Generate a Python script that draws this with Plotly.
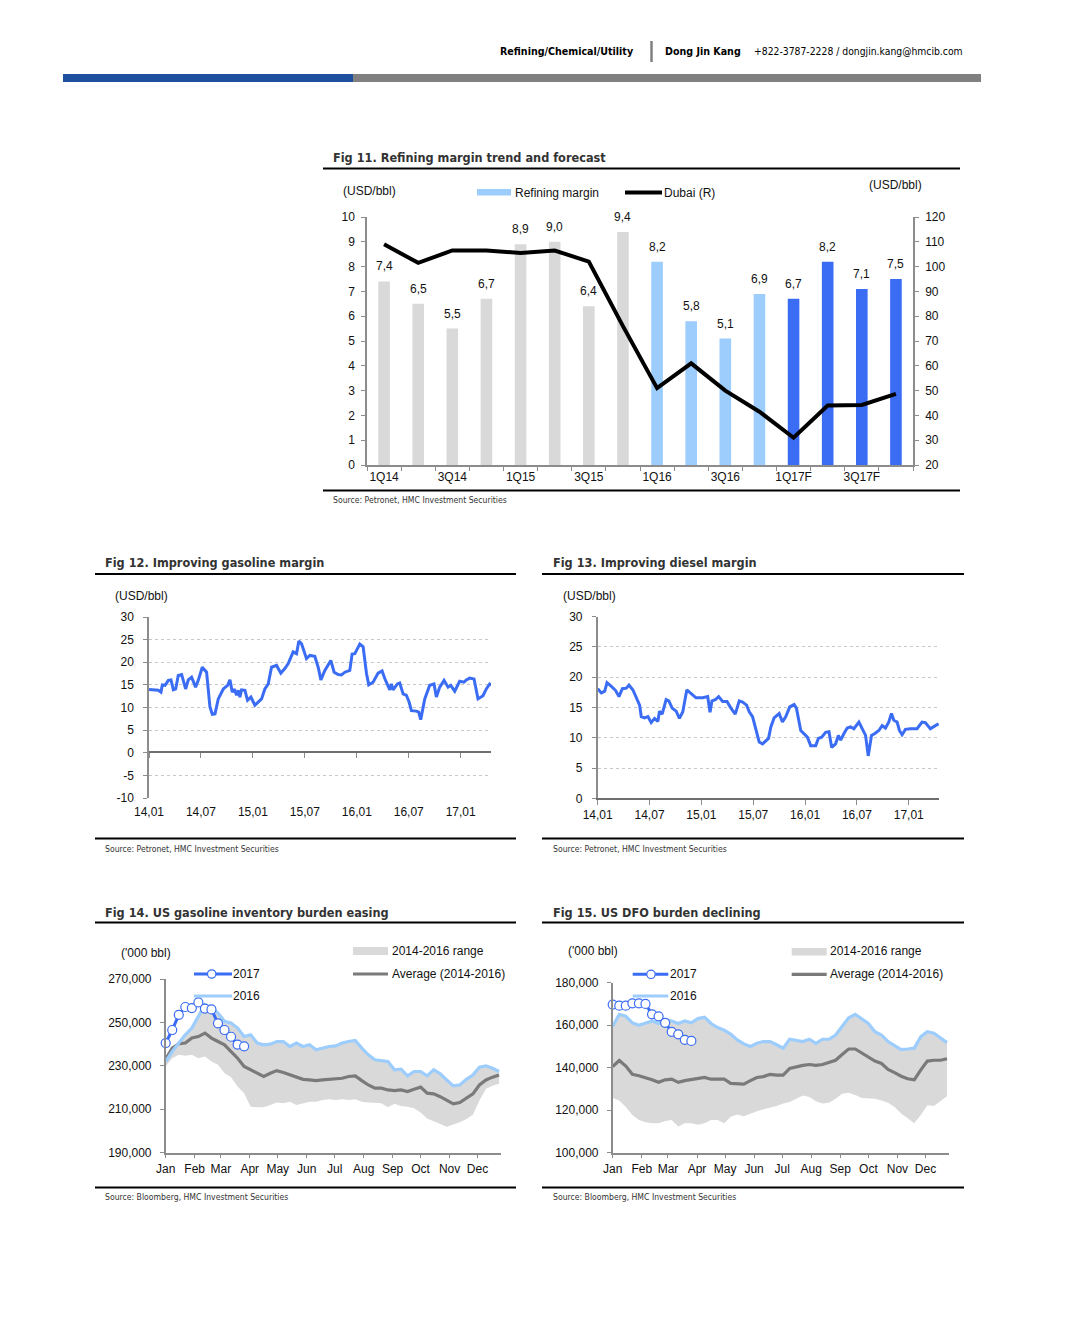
import plotly.graph_objects as go

W, H = 1068, 1322


def fx(px):
    return px / W


def fy(py):
    return 1 - py / H


SANS = "Liberation Sans, Arial, Helvetica, sans-serif"
COND = "Liberation Sans Narrow, Arial Narrow, DejaVu Sans Condensed, sans-serif"
AXIS = "#8c8c8c"
GRID = "#c8c8c8"
BLUE = "#3a6cf4"
LBLUE = "#9ccdfc"
DGRAY = "#7a7a7a"
BAND = "#d9d9d9"

# ---------------- Fig 11 data ----------------
quarters = ["1Q14", "2Q14", "3Q14", "4Q14", "1Q15", "2Q15", "3Q15", "4Q15",
            "1Q16", "2Q16", "3Q16", "4Q16", "1Q17F", "2Q17F", "3Q17F", "4Q17F"]
quarter_ticktext = ["1Q14", "", "3Q14", "", "1Q15", "", "3Q15", "",
                    "1Q16", "", "3Q16", "", "1Q17F", "", "3Q17F", ""]
refining_margin = [7.4, 6.5, 5.5, 6.7, 8.9, 9.0, 6.4, 9.4,
                   8.2, 5.8, 5.1, 6.9, 6.7, 8.2, 7.1, 7.5]
dubai = [109, 101.5, 106.5, 106.5, 105.5, 106.5, 102, 76,
         51, 61, 50, 41.5, 31, 44, 44.2, 48.7]

# ---------------- Fig 12 / 13 data ----------------
half_year_ticks = [0, 6, 12, 18, 24, 30, 36]
half_year_labels = ["14,01", "14,07", "15,01", "15,07", "16,01", "16,07", "17,01"]
gas_ytick_vals = [-10, -5, 0, 5, 10, 15, 20, 25, 30]
gas_ytick_text = ["-10", "-5", "0", "5", "10", "15", "20", "25", "30"]

gas_months = [0.0, 1.08, 1.38, 1.54, 1.85, 2.23, 2.54, 2.81, 3.08, 3.38, 3.77, 4.23, 4.54, 4.92,
              5.38, 5.69, 6.15, 6.46, 6.65, 7.04, 7.31, 7.62, 8.0, 8.58, 9.08, 9.35, 9.62, 9.85,
              10.12, 10.31, 10.5, 10.69, 11.08, 11.38, 11.77, 12.23, 13.0, 13.38, 13.77, 14.15,
              14.73, 15.23, 15.69, 16.08, 16.65, 17.04, 17.31, 17.62, 18.19, 18.58, 19.15, 19.54,
              19.85, 20.31, 21.0, 21.38, 21.85, 22.23, 22.62, 23.19, 23.46, 23.77, 24.35, 24.73,
              25.12, 25.38, 25.88, 26.46, 26.92, 27.23, 27.54, 27.81, 28.0, 28.19, 28.69, 28.96,
              29.35, 29.73, 30.04, 30.31, 30.88, 31.15, 31.38, 31.85, 32.42, 32.92, 33.19, 33.58,
              34.08, 34.54, 34.85, 35.31, 35.88, 36.38, 36.65, 37.04, 37.54, 38.0, 38.58, 38.96,
              39.35, 39.54]
gas_margin = [14.0, 13.8, 13.4, 15.0, 14.9, 16.0, 16.1, 13.9, 14.1, 17.1, 17.3, 14.1, 16.1, 16.7,
              14.5, 16.0, 18.9, 18.1, 17.8, 10.1, 8.5, 8.6, 11.9, 14.1, 14.9, 16.1, 13.4, 14.1,
              12.7, 13.8, 12.3, 13.9, 13.8, 11.6, 12.3, 10.5, 11.9, 14.1, 15.2, 18.9,
              19.3, 17.6, 18.6, 19.7, 22.3, 21.9, 24.7, 24.1, 20.8, 21.5, 21.3, 18.9,
              16.1, 18.2, 20.4, 17.8, 17.3, 17.2, 17.8, 18.2, 21.8, 21.9, 24.0, 23.4,
              17.5, 15.0, 15.6, 17.6, 18.1, 16.4, 14.9, 13.9, 15.2, 13.9, 15.2, 15.4,
              13.0, 12.7, 11.2, 9.3, 9.2, 9.0, 7.3, 11.9, 14.9, 15.2, 12.3, 14.5,
              16.0, 14.5, 14.9, 13.6, 15.8, 15.6, 16.1, 16.5, 16.3, 11.9, 12.6, 14.1,
              15.2, 15.0]

dsl_months = [0.0, 0.42, 0.81, 1.08, 1.58, 2.08, 2.46, 2.85, 3.31, 3.62, 4.08, 4.46, 4.85, 5.04,
              5.42, 5.81, 6.19, 6.58, 6.96, 7.15, 7.46, 7.92, 8.23, 8.62, 9.08, 9.46, 9.85, 10.31,
              10.69, 11.0, 11.38, 12.15, 12.73, 13.0, 13.23, 13.62, 14.0, 14.46, 14.96, 15.42,
              15.92, 16.38, 16.77, 17.23, 17.54, 17.92, 18.31, 18.69, 19.08, 19.77, 20.04, 20.42,
              21.0, 21.38, 21.77, 22.23, 22.73, 23.0, 23.5, 23.88, 24.27, 24.65, 25.23, 25.54,
              25.92, 26.38, 26.77, 27.08, 27.54, 27.85, 28.12, 28.5, 28.88, 29.27, 29.65, 30.23,
              30.62, 31.0, 31.31, 31.69, 32.08, 32.54, 32.92, 33.31, 33.69, 34.0, 34.27, 34.65,
              34.92, 35.23, 35.62, 36.19, 36.96, 37.54, 37.92, 38.5, 39.08, 39.46]
dsl_margin = [18.1, 17.4, 17.7, 19.1, 18.5, 17.8, 16.8, 18.1, 18.2, 18.7, 17.9, 16.5, 15.4, 13.5,
              13.3, 13.5, 12.5, 13.2, 12.7, 14.4, 13.9, 16.3, 16.1, 14.9, 14.4, 13.2, 14.3, 17.9,
              17.4, 17.0, 16.6, 16.6, 16.8, 14.2, 16.1, 16.3, 16.8, 16.0, 16.0, 14.9,
              13.9, 16.1, 15.9, 15.4, 14.3, 13.5, 11.2, 9.3, 9.0, 9.9, 11.8, 13.3,
              14.0, 12.6, 13.5, 15.1, 15.5, 14.9, 11.2, 10.7, 10.1, 8.7, 8.7, 9.9,
              10.1, 10.9, 11.0, 8.4, 9.0, 10.4, 9.6, 10.7, 11.6, 11.8, 11.5, 12.6,
              11.5, 10.4, 7.0, 10.4, 10.7, 11.2, 12.0, 11.6, 12.6, 14.0, 12.9, 12.6,
              11.2, 10.5, 11.4, 11.5, 11.5, 12.6, 12.5, 11.5, 12.0, 12.3]

# ---------------- Fig 14 / 15 data ----------------
weeks = list(range(52))
month_tick_weeks = [0, 4.43, 8.43, 12.86, 17.14, 21.57, 25.86, 30.29, 34.71, 39.0, 43.43, 47.71]
month_labels = ["Jan", "Feb", "Mar", "Apr", "May", "Jun", "Jul", "Aug", "Sep", "Oct", "Nov", "Dec"]

gas_inv_2017 = [240500, 246500, 253500, 257100, 256600, 259200, 256400, 256000, 249600,
                246500, 243400, 239800, 239000]
gas_inv_2016 = [232000, 236600, 240500, 244300, 247400, 252800, 258200, 256600, 254300, 250500,
                249700, 247400, 243500, 244300, 240500, 239700, 240000, 241200, 241200, 238900,
                240500, 238900, 239700, 237400, 238200, 238900, 239200, 240500, 241200, 241700,
                238200, 235100, 232800, 232500, 232000, 228200, 228500, 225400, 227400, 227400,
                225400, 228200, 226300, 223500, 220800, 221200, 223800, 225800, 229400, 230000,
                228900, 227400]
gas_inv_avg = [233000, 238200, 240200, 240500, 242800, 243500, 245100, 242800, 241200, 239700,
               236600, 233500, 229700, 228200, 226300, 225100, 226600, 227800, 226900, 225800,
               224800, 223800, 223500, 223200, 223500, 223800, 223800, 224300, 225100, 225400,
               223200, 221200, 219700, 219700, 218900, 218600, 218900, 218200, 219200, 220200,
               217400, 217100, 215800, 214300, 212500, 213100, 215100, 217100, 221200, 223500,
               224800, 225800]
gas_inv_low = [229700, 233500, 235100, 234600, 235100, 233500, 234300, 232000, 230500, 226600,
               224800, 220500, 217400, 211200, 210900, 210900, 212000, 213100, 212800, 213500,
               212000, 212800, 213500, 213500, 214300, 214600, 214300, 214600, 214300, 214600,
               213500, 213100, 213100, 212800, 210900, 212500, 211500, 211200, 210500, 208500,
               205800, 204500, 203000, 202000, 203000, 204000, 205500, 207500, 214000, 219500,
               220800, 221800]
gas_inv_high = [232000, 236600, 240500, 244300, 247400, 252800, 258200, 256600, 254300, 250500,
                249700, 247400, 243500, 244300, 240500, 239700, 240000, 241200, 241200, 238900,
                240500, 238900, 239700, 237400, 238200, 238900, 239200, 240500, 241200, 241700,
                238200, 235100, 232800, 232500, 232000, 228200, 228500, 225400, 227400, 227400,
                225400, 228200, 226300, 223500, 220800, 221200, 223800, 225800, 229400, 230000,
                228900, 227400]

dfo_inv_2017 = [169700, 169200, 169200, 170300, 170300, 170000, 165100, 164200, 161100,
                156900, 155700, 153100, 152600]
dfo_inv_2016 = [159500, 165100, 164200, 161100, 160000, 161100, 162000, 160800, 162600, 162000,
                160800, 162000, 161100, 163100, 163800, 160800, 158900, 157700, 155800, 153100,
                151200, 150000, 151500, 152300, 152300, 150800, 149200, 153400, 152800, 152300,
                153400, 151500, 153400, 153400, 155400, 159500, 163500, 165100, 163100, 160800,
                156900, 155400, 152300, 150300, 148500, 148800, 149200, 154600, 156900, 156200,
                153800, 151800]
dfo_inv_avg = [140500, 143400, 140800, 136900, 136200, 135400, 134300, 133100, 134300, 134600,
               133100, 133900, 134300, 134900, 135400, 134600, 134600, 134600, 132600, 132300,
               132300, 133900, 135400, 135800, 136900, 136500, 136500, 139700, 140500, 141100,
               141500, 141100, 141500, 142600, 143500, 146200, 148800, 148800, 146900, 145100,
               143100, 142000, 139200, 137700, 136000, 134800, 134300, 139000, 143100, 143500,
               143500, 144200]
dfo_inv_low = [125700, 124600, 121500, 117700, 115400, 114300, 113900, 113900, 114900, 115400,
               112300, 113900, 113900, 113100, 113900, 115400, 115400, 113900, 116900, 118000,
               117200, 118500, 119500, 120500, 121100, 122000, 123100, 123900, 125400, 126900,
               126200, 124200, 123100, 123500, 125400, 127700, 128200, 127200, 125700, 125400,
               125400, 124600, 123500, 121500, 118500, 116200, 113900, 117700, 122300, 122000,
               124200, 126600]
dfo_inv_high = [159500, 165100, 164200, 161100, 160000, 161100, 162000, 160800, 162600, 162000,
                160800, 162000, 161100, 163100, 163800, 160800, 158900, 157700, 155800, 153100,
                151200, 150000, 151500, 152300, 152300, 150800, 149200, 153400, 152800, 152300,
                153400, 151500, 153400, 153400, 155400, 159500, 163500, 165100, 163100, 160800,
                156900, 155400, 152300, 150300, 148500, 148800, 149200, 154600, 156900, 156200,
                153800, 151800]

# ---------------- build figure ----------------
fig = go.Figure()

bar_colors = []
for q in quarters:
    if q.endswith("F"):
        bar_colors.append(BLUE)
    elif q.endswith("16"):
        bar_colors.append(LBLUE)
    else:
        bar_colors.append(BAND)

fig.add_trace(go.Bar(x=quarters, y=refining_margin, width=0.34,
                     marker=dict(color=bar_colors, line=dict(width=0)),
                     xaxis="x", yaxis="y", hoverinfo="skip"))
fig.add_trace(go.Scatter(x=quarters, y=dubai, mode="lines",
                         line=dict(color="black", width=4),
                         xaxis="x", yaxis="y2", hoverinfo="skip"))

fig.add_trace(go.Scatter(x=gas_months, y=gas_margin, mode="lines",
                         line=dict(color=BLUE, width=3),
                         xaxis="x2", yaxis="y3", hoverinfo="skip"))
fig.add_trace(go.Scatter(x=dsl_months, y=dsl_margin, mode="lines",
                         line=dict(color=BLUE, width=3),
                         xaxis="x3", yaxis="y4", hoverinfo="skip"))


def inventory(xa, ya, low, high, avg, y2016, y2017):
    fig.add_trace(go.Scatter(x=weeks, y=low, mode="lines", line=dict(width=0),
                             xaxis=xa, yaxis=ya, hoverinfo="skip"))
    fig.add_trace(go.Scatter(x=weeks, y=high, mode="lines", line=dict(width=0),
                             fill="tonexty", fillcolor=BAND,
                             xaxis=xa, yaxis=ya, hoverinfo="skip"))
    fig.add_trace(go.Scatter(x=weeks, y=avg, mode="lines",
                             line=dict(color=DGRAY, width=3.2),
                             xaxis=xa, yaxis=ya, hoverinfo="skip"))
    fig.add_trace(go.Scatter(x=weeks, y=y2016, mode="lines",
                             line=dict(color=LBLUE, width=3.2),
                             xaxis=xa, yaxis=ya, hoverinfo="skip"))
    fig.add_trace(go.Scatter(x=weeks[:len(y2017)], y=y2017, mode="lines+markers",
                             line=dict(color=BLUE, width=3),
                             marker=dict(size=9, color="white", line=dict(color=BLUE, width=1.2)),
                             cliponaxis=False,
                             xaxis=xa, yaxis=ya, hoverinfo="skip"))


inventory("x4", "y5", gas_inv_low, gas_inv_high, gas_inv_avg, gas_inv_2016, gas_inv_2017)
inventory("x5", "y6", dfo_inv_low, dfo_inv_high, dfo_inv_avg, dfo_inv_2016, dfo_inv_2017)


def ax(**kw):
    base = dict(showgrid=False, zeroline=False, showline=True, linecolor=AXIS, linewidth=1.5,
                ticks="outside", ticklen=4, tickcolor=AXIS, tickwidth=1.2, tickangle=0,
                automargin=False,
                tickfont=dict(family=SANS, size=12, color="#111"), fixedrange=True)
    base.update(kw)
    return base


layout_axes = dict(
    xaxis=ax(domain=[fx(367), fx(913)], anchor="y", type="category", range=[-0.5, 15.5],
             tickmode="array", tickvals=quarters, ticktext=quarter_ticktext, tickson="boundaries"),
    yaxis=ax(domain=[fy(465), fy(217)], anchor="x", range=[0, 10], dtick=1, tick0=0,
             ticklabelstandoff=4),
    yaxis2=ax(overlaying="y", side="right", anchor="x", range=[20, 120], dtick=10, tick0=20,
              ticklabelstandoff=4),
    xaxis2=ax(domain=[fx(149), fx(491)], anchor="free", position=fy(752), range=[0, 39.5],
              tickmode="array", tickvals=half_year_ticks, ticktext=half_year_labels,
              ticklen=5, linecolor="#6e6e6e", ticklabelstandoff=44),
    yaxis3=ax(domain=[fy(798), fy(617)], anchor="x2", range=[-10, 30],
              tickmode="array", tickvals=gas_ytick_vals, ticktext=gas_ytick_text,
              showgrid=True, gridcolor=GRID, griddash="dot", gridwidth=1, ticklabelstandoff=7),
    xaxis3=ax(domain=[fx(597.7), fx(939)], anchor="y4", range=[0, 39.5],
              tickmode="array", tickvals=half_year_ticks, ticktext=half_year_labels,
              ticklen=5, linecolor="#6e6e6e"),
    yaxis4=ax(domain=[fy(798.3), fy(616.7)], anchor="x3", range=[0, 30], dtick=5, tick0=0,
              showgrid=True, gridcolor=GRID, griddash="dot", gridwidth=1, ticklabelstandoff=7),
    xaxis4=ax(domain=[fx(165.7), fx(501)], anchor="y5", range=[0, 51.3],
              tickmode="array", tickvals=month_tick_weeks, ticktext=month_labels),
    yaxis5=ax(domain=[fy(1152.7), fy(979)], anchor="x4", range=[190000, 270000],
              dtick=20000, tick0=190000, tickformat=",d", ticklabelstandoff=6),
    xaxis5=ax(domain=[fx(612.7), fx(949)], anchor="y6", range=[0, 51.3],
              tickmode="array", tickvals=month_tick_weeks, ticktext=month_labels),
    yaxis6=ax(domain=[fy(1152.7), fy(982.7)], anchor="x5", range=[100000, 180000],
              dtick=20000, tick0=100000, tickformat=",d", ticklabelstandoff=6),
)

annotations = []


def txt(px, py, s, size=12, family=SANS, color="#111", anchor="left"):
    annotations.append(dict(x=fx(px), y=fy(py), xref="paper", yref="paper", text=s,
                            showarrow=False, xanchor=anchor, yanchor="middle",
                            font=dict(size=size, family=family, color=color)))


# bar value labels
for q, v in zip(quarters, refining_margin):
    annotations.append(dict(x=q, y=v, xref="x", yref="y", text=f"{v:.1f}".replace(".", ","),
                            showarrow=False, yanchor="bottom", yshift=6,
                            font=dict(size=12, family=SANS, color="#111")))

HDR = 10.6
TTL = 12.6
SRC = 8.6
# header
txt(498, 51, "<b>Refining/Chemical/Utility</b>", size=HDR, family=COND, color="#000")
txt(663, 51, "<b>Dong Jin Kang</b>", size=HDR, family=COND, color="#000")
txt(752, 51, "+822-3787-2228 / dongjin.kang@hmcib.com", size=10.3, family=COND, color="#000")

# titles and sources
TITLE_C = "#333333"
txt(331, 157, "<b>Fig 11. Refining margin trend and forecast</b>", size=TTL, family=COND, color=TITLE_C)
txt(331, 500, "Source: Petronet, HMC Investment Securities", size=SRC, family=COND, color="#333")
txt(103, 563, "<b>Fig 12. Improving gasoline margin</b>", size=TTL, family=COND, color=TITLE_C)
txt(103, 849, "Source: Petronet, HMC Investment Securities", size=SRC, family=COND, color="#333")
txt(551, 563, "<b>Fig 13. Improving diesel margin</b>", size=TTL, family=COND, color=TITLE_C)
txt(551, 849, "Source: Petronet, HMC Investment Securities", size=SRC, family=COND, color="#333")
txt(103, 912, "<b>Fig 14. US gasoline inventory burden easing</b>", size=TTL, family=COND, color=TITLE_C)
txt(103, 1197, "Source: Bloomberg, HMC Investment Securities", size=SRC, family=COND, color="#333")
txt(551, 912, "<b>Fig 15. US DFO burden declining</b>", size=TTL, family=COND, color=TITLE_C)
txt(551, 1197, "Source: Bloomberg, HMC Investment Securities", size=SRC, family=COND, color="#333")

# chart unit labels and legends
txt(341, 191, "(USD/bbl)")
txt(867, 185, "(USD/bbl)")
txt(513, 193, "Refining margin")
txt(662, 193, "Dubai (R)")
txt(113, 596, "(USD/bbl)")
txt(561, 596, "(USD/bbl)")

txt(119, 953, "('000 bbl)")
txt(231, 974, "2017")
txt(231, 996, "2016")
txt(390, 951, "2014-2016 range")
txt(390, 974, "Average (2014-2016)")

txt(566, 951, "('000 bbl)")
txt(668, 974, "2017")
txt(668, 996, "2016")
txt(828, 951, "2014-2016 range")
txt(828, 974, "Average (2014-2016)")

shapes = []


def hline(x0, x1, py, color="#000", width=2):
    shapes.append(dict(type="line", xref="paper", yref="paper", x0=fx(x0), x1=fx(x1),
                       y0=fy(py), y1=fy(py), line=dict(color=color, width=width)))


def rect(x0, x1, y0, y1, color):
    shapes.append(dict(type="rect", xref="paper", yref="paper", x0=fx(x0), x1=fx(x1),
                       y0=fy(y1), y1=fy(y0), fillcolor=color, line=dict(width=0)))


def circle(cx, cy, r, color):
    shapes.append(dict(type="circle", xref="paper", yref="paper", x0=fx(cx - r), x1=fx(cx + r),
                       y0=fy(cy + r), y1=fy(cy - r), fillcolor="white",
                       line=dict(color=color, width=1.2)))


# header bar
rect(63, 353, 74, 82, "#1d51a0")
rect(353, 981, 74, 82, "#808080")
shapes.append(dict(type="line", xref="paper", yref="paper", x0=fx(651.5), x1=fx(651.5),
                   y0=fy(62), y1=fy(41), line=dict(color="#808080", width=2.5)))

# figure frames
hline(323, 960, 168.5)
hline(323, 960, 490.5)
hline(95, 516, 574)
hline(95, 516, 838.5)
hline(542, 964, 574)
hline(542, 964, 838.5)
hline(95, 516, 922.5)
hline(95, 516, 1187.5)
hline(542, 964, 922.5)
hline(542, 964, 1187.5)

# legend keys fig 11
rect(477, 511, 189, 195.5, LBLUE)
hline(625, 662, 192.5, color="#000", width=4)

# legend keys fig 14
hline(194, 232, 974, color=BLUE, width=3)
circle(211.7, 974, 4.2, BLUE)
hline(194, 232, 996, color=LBLUE, width=3.2)
rect(353, 388, 947, 955, BAND)
hline(353, 388, 974, color=DGRAY, width=3.2)

# legend keys fig 15
hline(632.7, 668.3, 974.3, color=BLUE, width=3)
circle(651, 974.3, 4.2, BLUE)
hline(632.7, 668.3, 996, color=LBLUE, width=3.2)
rect(791.7, 826.7, 948, 955.5, BAND)
hline(791.7, 826.7, 974.3, color=DGRAY, width=3.2)

fig.update_layout(
    width=W, height=H, margin=dict(l=0, r=0, t=0, b=0, pad=0, autoexpand=False),
    paper_bgcolor="white", plot_bgcolor="rgba(0,0,0,0)",
    showlegend=False, bargap=0.5,
    font=dict(family=SANS, size=12, color="#111"),
    annotations=annotations, shapes=shapes,
    **layout_axes,
)

fig.write_html("out.html", config={"displayModeBar": False},
               post_script="document.body.style.margin='0';document.body.style.padding='0';")
